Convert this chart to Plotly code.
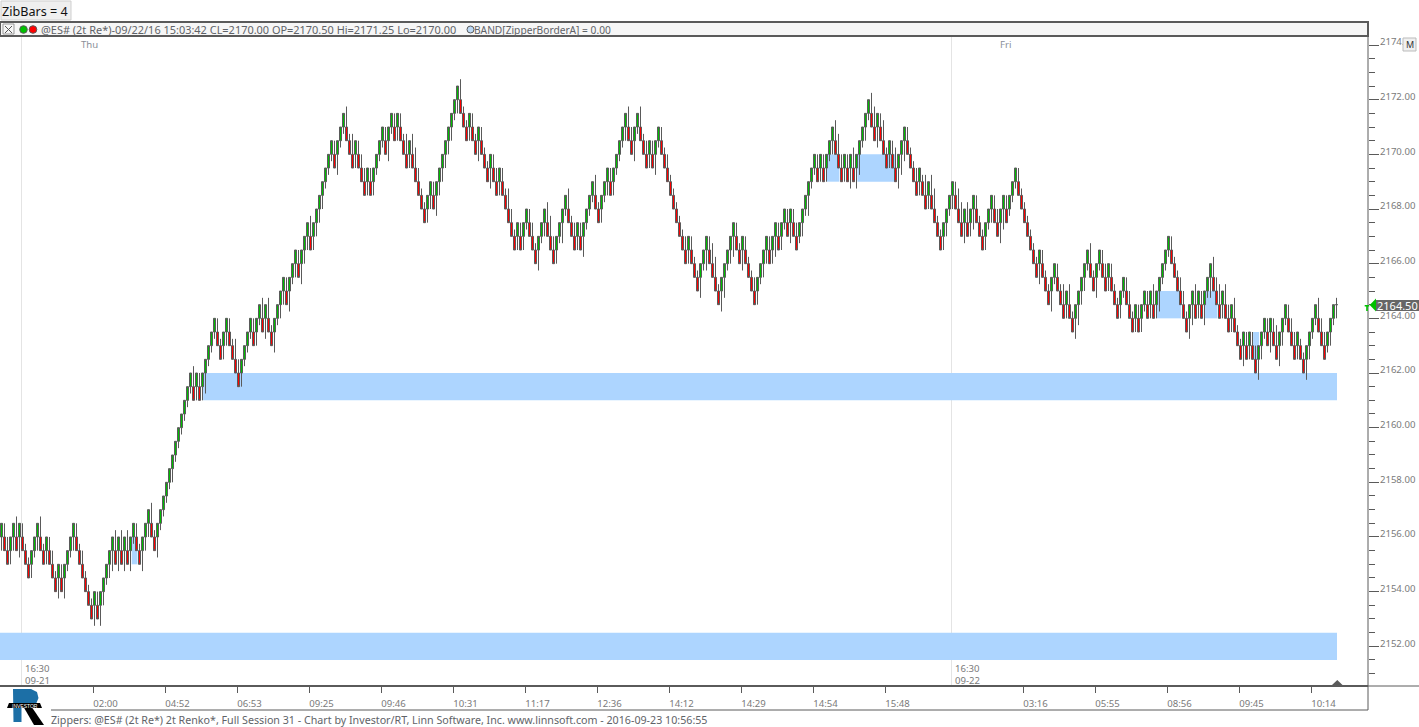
import plotly.graph_objects as go

W, H = 1419, 727

# Renko brick position: half-points below 2162 of each brick's top edge
brick_rows = [
 11,12,13,12,11,12,11,12,13,14, 13,12,11,12,13,12,13,14,15,14,
 15,14,13,12,11,12,13,14,15,16, 17,16,17,16,15,14,13,12,13,12,
 13,12,13,12,11,12,13,12,11,10, 11,12,11,10,9,8,7,6,5,4,
 3,2,1,0,1,0,1,0,-1,-2, -3,-4,-3,-2,-3,-4,-3,-2,-1,0,
 -1,-2,-3,-4,-3,-4,-5,-4,-5,-4, -3,-4,-5,-6,-7,-6,-7,-8,-9,-8,
 -9,-10,-11,-10,-11,-12,-13,-14,-15,-16, -17,-16,-17,-18,-19,-18,-17,-16,-17,-16,
 -15,-14,-15,-14,-15,-16,-17,-18,-17,-18, -19,-18,-19,-18,-17,-16,-17,-16,-15,-14,
 -13,-12,-13,-14,-13,-14,-15,-16,-17,-18, -19,-20,-21,-20,-19,-18,-19,-18,-17,-18,
 -17,-16,-15,-16,-15,-14,-15,-14,-13,-12, -11,-10,-11,-10,-11,-12,-11,-10,-9,-10,
 -11,-12,-11,-10,-9,-10,-11,-12,-13,-12, -11,-10,-11,-10,-11,-12,-13,-14,-13,-12,
 -13,-14,-15,-14,-15,-16,-17,-18,-19,-18, -17,-18,-19,-18,-17,-16,-17,-16,-17,-18,
 -17,-16,-15,-14,-13,-12,-11,-10,-9,-10, -9,-8,-7,-8,-9,-10,-9,-8,-7,-6,
 -7,-8,-9,-10,-11,-10,-9,-10,-9,-8, -7,-6,-7,-8,-9,-10,-9,-10,-11,-10,
 -11,-12,-11,-12,-11,-10,-11,-12,-13,-14, -15,-16,-15,-16,-15,-16,-17,-18,-17,-16,
 -15,-16,-15,-16,-15,-16,-17,-18,-19,-20, -19,-18,-19,-18,-17,-16,-17,-16,-15,-16,
 -17,-18,-17,-16,-15,-14,-15,-14,-13,-14, -13,-12,-11,-10,-11,-12,-13,-14,-13,-12,
 -11,-12,-11,-12,-13,-12,-11,-10,-11,-12, -13,-12,-11,-12,-13,-12,-13,-14,-15,-14,
 -13,-12,-11,-10,-9,-8,-9,-8,-7,-6, -7,-8,-7,-6,-5,-6,-5,-4,-5,-6,
 -7,-8,-9,-8,-7,-8,-9,-8,-7,-8, -7,-6,-5,-6,-7,-6,-5,-4,-5,-4,
 -5,-6,-5,-6,-5,-6,-7,-8,-9,-10, -9,-8,-7,-6,-5,-4,-5,-6,-5,-6,
 -5,-6,-7,-8,-7,-6,-5,-6,-5,-4, -5,-4,-3,-2,-3,-2,-3,-2,-1,-2,
 -3,-4,-3,-4,-3,-2,-3,-4,-5,-4, -3,-2,-3,-2,-1,-2,-3,-4,-5,-4,
 -3,-2,-3,-4,-5,
]
# Wick length of each brick, in ticks of 0.25 beyond the brick's opening edge
wick_ticks = [
 2,2,2,2,2,3,3,2,1,1, 2,1,2,3,1,2,2,2,1,3, 2,3,1,1,2,2,1,2,1,1,
 1,3,2,3,2,1,2,3,3,3, 3,3,3,3,1,2,1,3,2,2, 3,1,3,1,1,1,1,2,1,1,
 1,1,1,1,3,2,2,2,3,1, 1,1,2,1,2,2,2,1,3,2, 2,1,1,1,2,2,1,3,3,3,
 1,3,1,2,2,2,3,1,2,2, 3,2,2,3,2,2,2,2,1,1, 1,2,3,1,1,3,1,3,2,2,
 2,2,2,2,2,1,1,1,2,3, 1,2,2,2,1,3,2,3,3,2, 1,1,2,2,2,3,2,2,2,2,
 2,1,2,3,1,1,2,2,1,3, 2,1,1,3,2,2,2,2,1,3, 2,1,2,2,2,1,2,2,1,3,
 1,2,3,3,2,2,1,3,1,3, 1,2,2,2,3,1,1,1,3,1, 2,1,2,2,2,1,1,1,2,3,
 2,3,1,3,1,2,2,2,3,1, 2,1,2,1,1,1,1,1,2,2, 2,1,1,3,1,3,2,3,3,1,
 3,3,1,2,3,2,1,3,2,1, 1,2,2,1,2,2,2,2,3,2, 2,1,2,3,2,2,1,2,1,3,
 1,1,2,2,2,2,1,2,3,3, 2,2,2,3,3,3,3,1,2,1, 3,3,3,2,3,1,2,2,3,3,
 3,3,2,1,1,2,2,1,3,2, 3,3,1,1,2,2,1,2,2,3, 3,3,3,2,3,2,1,1,2,1,
 2,2,2,3,3,2,1,1,1,2, 1,1,1,1,1,1,3,2,1,1, 3,1,2,1,3,2,3,1,3,3,
 2,2,1,3,1,3,1,2,2,2, 2,1,1,2,1,2,2,1,2,2, 2,1,2,2,3,2,3,1,1,1,
 2,1,1,2,2,1,3,3,3,2, 2,3,1,3,3,2,3,2,3,2, 2,3,1,1,3,2,2,2,2,3,
 2,1,2,3,2,3,3,2,1,2, 2,2,2,1,1,3,2,1,1,3, 2,2,1,2,1,
]
# The still-forming last bar
last_price, last_high, last_low = 2164.50, 2164.75, 2164.00

# Zipper bands: first bar, last bar, top price, bottom price
bands = [
 (67.2, 445.17, 2162.0, 2161.0),
 (-0.5, 445.17, 2152.5, 2151.5),
 (43.4, 45.3, 2156.0, 2155.0),
 (275.1, 279.3, 2170.0, 2169.0),
 (285.3, 298.0, 2170.0, 2169.0),
 (385.0, 393.2, 2165.0, 2164.0),
 (401.2, 405.3, 2165.0, 2164.0),
 (417.2, 419.2, 2163.5, 2162.5),
]
session_bars = [6.67, 316.67]
session_times = ["16:30", "16:30"]
session_dates = ["09-21", "09-22"]
day_labels = [("Thu", 29.17), ("Fri", 334.5)]
time_tick_bars = [30.67 + 24*k for k in range(12)] + [340.67 + 24*k for k in range(5)]
time_tick_text = ["02:00","04:52","06:53","09:25","09:46","10:31","11:17","12:36","14:12","14:29",
                  "14:54","15:48","03:16","05:55","08:56","09:45","10:14"]
GREEN, RED, GRAY, BAND = "#00BE00", "#FF0000", "#5A5A5A", "#ADD5FF"
FONT = "Noto Sans"

x, opens, highs, lows, closes = [], [], [], [], []
prev = None
for i, (r, w) in enumerate(zip(brick_rows, wick_ticks)):
    top = 2162 - r * 0.5
    up = prev is None or r < prev
    prev = r
    x.append(i)
    if up:
        opens.append(top - .5); closes.append(top); highs.append(top); lows.append(top - .5 - w * .25)
    else:
        opens.append(top); closes.append(top - .5); highs.append(top + w * .25); lows.append(top - .5)
x.append(len(brick_rows)); opens.append(last_price); closes.append(last_price)
highs.append(last_high); lows.append(last_low)

fig = go.Figure(go.Candlestick(
    x=x, open=opens, high=highs, low=lows, close=closes,
    increasing=dict(line=dict(color=GRAY, width=1), fillcolor=GREEN),
    decreasing=dict(line=dict(color=GRAY, width=1), fillcolor=RED),
    whiskerwidth=0, hoverinfo="skip", showlegend=False))

px = lambda v: v / W
py = lambda v: 1 - v / H
shapes, notes = [], []

def paper_rect(x0, y0, x1, y1, fill=None, line=None, lw=1, layer="above"):
    shapes.append(dict(type="rect", xref="paper", yref="paper", x0=px(x0), x1=px(x1), y0=py(y0), y1=py(y1),
                       fillcolor=fill or "rgba(0,0,0,0)", line=dict(color=line or "rgba(0,0,0,0)", width=lw if line else 0), layer=layer))

def paper_line(x0, y0, x1, y1, color=GRAY, lw=1):
    shapes.append(dict(type="line", xref="paper", yref="paper", x0=px(x0), x1=px(x1), y0=py(y0), y1=py(y1),
                       line=dict(color=color, width=lw), layer="above"))

def paper_path(pts, fill, close=True):
    d = "M " + " L ".join(f"{px(a):.5f},{py(b):.5f}" for a, b in pts) + (" Z" if close else "")
    shapes.append(dict(type="path", xref="paper", yref="paper", path=d, fillcolor=fill, line=dict(width=0), layer="above"))

def circle(cx, cy, r, fill, line=GRAY):
    shapes.append(dict(type="circle", xref="paper", yref="paper", x0=px(cx-r), x1=px(cx+r), y0=py(cy-r), y1=py(cy+r),
                       fillcolor=fill, line=dict(color=line, width=1), layer="above"))

def text(s, xp, yp, size=10.5, color="#5F6368", anchor="left", family=FONT):
    notes.append(dict(text=s, xref="paper", yref="paper", x=px(xp), y=py(yp), xanchor=anchor, yanchor="middle",
                      showarrow=False, align="left", font=dict(family=family, size=size, color=color),
                      borderpad=0, borderwidth=0))

# session separators then bands, all under the bars
for s in session_bars:
    shapes.append(dict(type="line", xref="x", yref="paper", x0=s, x1=s, y0=py(686), y1=py(36),
                       line=dict(color="#E4E4E4", width=1), layer="below"))
for b in bands:
    shapes.append(dict(type="rect", xref="x", yref="y", x0=b[0], x1=b[1], y0=b[3], y1=b[2],
                       fillcolor=BAND, line=dict(width=0), layer="below"))

for t, d, b in zip(session_times, session_dates, session_bars):
    for s, yp in ((t, 668.5), (d, 680)):
        notes.append(dict(text=s, xref="x", yref="paper", x=b, y=py(yp), xanchor="left", yanchor="middle", xshift=1,
                          showarrow=False, align="left", font=dict(family=FONT, size=9.6, color="#7A7A7A")))
for s, b in day_labels:
    notes.append(dict(text=s, xref="x", yref="paper", x=b, y=py(44), xanchor="center", yanchor="middle",
                      showarrow=False, font=dict(family=FONT, size=9.6, color="#8A8F99")))

# top button
paper_rect(1, 1, 71, 20, fill="#EFEFEF", line="#CFCFCF")
text("ZibBars = 4", 2, 11, size=12.6, color="#111111")
# header strip
paper_rect(0, 22, 1368, 36, fill="#F6F6F6", line=GRAY, lw=2)
paper_rect(3, 24, 14, 34, fill="#F6F6F6", line="#999999")
paper_line(5, 26, 12, 33, color="#555555"); paper_line(12, 26, 5, 33, color="#555555")
circle(23.5, 29.5, 3.8, "#00C000"); circle(33, 29.5, 3.8, "#FF0000")
text("@ES# (2t Re*)-09/22/16 15:03:42 CL=2170.00 OP=2170.50 Hi=2171.25 Lo=2170.00", 41, 29.5, size=10.95)
circle(470.5, 29.5, 3.5, "#BBD8F5")
text("BAND[ZipperBorderA] = 0.00", 474, 29.5, size=10.2)

# frame
paper_line(1368, 36, 1368, 710)
paper_line(0, 686, 1368, 686, lw=2)
paper_line(1368, 686, 1419, 686)
paper_line(51, 710, 1368, 710)
paper_path([(1332, 685), (1337.3, 680), (1342.5, 685)], GRAY)

# M button
paper_rect(1403, 38, 1416, 51, fill="#F0F0F0", line="#BBBBBB")
text("M", 1409.5, 44.5, size=9, color="#333333", anchor="center")

# last price marker
paper_rect(1376, 300, 1419, 311, fill="#666666")
text("2164.50", 1377, 305.5, size=11, color="#FFFFFF")
paper_path([(1369.7, 305), (1376, 298.5), (1376, 311.5)], "#00C000")
paper_path([(1364.7, 305), (1369.2, 305), (1369.2, 306.5), (1367.8, 306.5), (1367.8, 311), (1366.2, 311), (1366.2, 306.5), (1364.7, 306.5)], "#00C000")

# logo
paper_path([(13, 689), (31, 689), (37, 692), (38.5, 698), (36, 704), (30, 706.5), (21.5, 706.5), (21.5, 722), (13.5, 722)], "#1C6FA6")
paper_path([(23, 706), (31, 706), (44, 725), (34, 725)], "#000000")
paper_path([(9, 703), (40, 703), (42, 708), (7, 708)], "#000000")
text("INVESTOR", 24.5, 705.5, size=5, color="#FFFFFF", anchor="center", family="Liberation Sans")

# footer
text("Zippers: @ES# (2t Re*) 2t Renko*, Full Session 31 - Chart by Investor/RT, Linn Software, Inc. www.linnsoft.com - 2016-09-23 10:56:55", 51, 720, size=10.7)

fig.update_layout(
    width=W, height=H, autosize=False, margin=dict(l=0, r=0, t=0, b=0),
    paper_bgcolor="#FFFFFF", plot_bgcolor="#FFFFFF", showlegend=False, dragmode=False,
    boxgap=1/3, boxgroupgap=0,
    shapes=shapes, annotations=notes,
    xaxis=dict(domain=[0, 1368 / W], range=[-0.5, 455.5], rangeslider=dict(visible=False), showgrid=False, zeroline=False,
               showline=False, tickmode="array", tickvals=time_tick_bars, ticktext=time_tick_text,
               ticks="outside", ticklen=6, tickcolor=GRAY, tickwidth=1,
               ticklabelshift=12, ticklabelstandoff=2,
               tickfont=dict(family=FONT, size=9.6, color="#7A7A7A")),
    yaxis=dict(domain=[py(686), py(36)], range=[2162 - (686 - 373) / 27.33, 2162 + (373 - 36) / 27.33],
               side="right", showgrid=False, zeroline=False, showline=False, tickmode="linear", tick0=2150, dtick=2,
               tickformat=".2f", ticks="outside", ticklen=10, tickcolor=GRAY, tickwidth=1,
               ticklabelshift=-3, ticklabelstandoff=-1,
               minor=dict(tickmode="linear", tick0=2150, dtick=0.5, ticks="outside", ticklen=6, tickcolor=GRAY, tickwidth=1, showgrid=False),
               tickfont=dict(family=FONT, size=9.6, color="#7A7A7A")),
)

fig.write_html("out.html", config=dict(displayModeBar=False, staticPlot=True),
               post_script="document.body.style.margin='0';document.documentElement.style.overflow='hidden';")
